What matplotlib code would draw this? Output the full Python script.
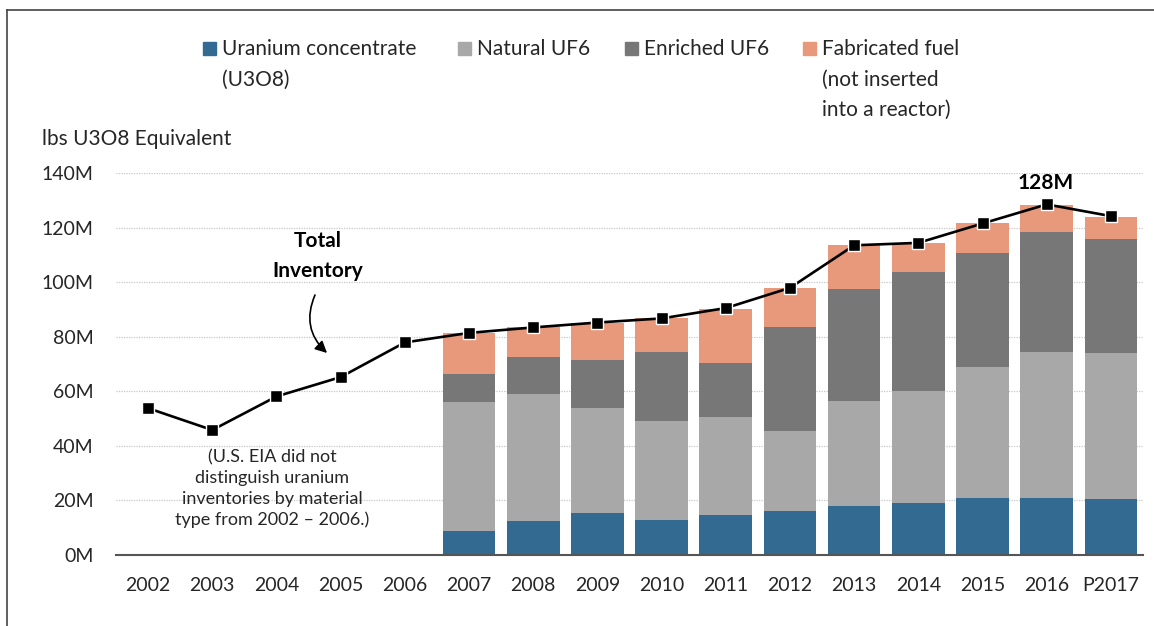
import numpy as np
import matplotlib
matplotlib.use("Agg")
import matplotlib.pyplot as plt
from matplotlib.patches import Rectangle
from matplotlib.lines import Line2D

plt.rcParams['font.family'] = ['Lato', 'DejaVu Sans']

W, H = 1154, 626
TXT = "#262626"

years = ["2002", "2003", "2004", "2005", "2006", "2007", "2008", "2009",
         "2010", "2011", "2012", "2013", "2014", "2015", "2016", "P2017"]

# million lbs U3O8 equivalent, by material type (2007 onward)
bar_years = years[5:]
u3o8 = [8.8, 12.5, 15.3, 13.0, 14.8, 16.3, 18.1, 19.1, 20.9, 20.9, 20.4]
natural_uf6 = [47.4, 46.5, 38.6, 36.1, 35.8, 29.2, 38.5, 40.9, 47.9, 53.6, 53.6]
enriched_uf6 = [10.3, 13.6, 17.7, 25.4, 19.7, 37.9, 40.8, 43.6, 41.7, 43.7, 41.8]
fabricated = [15.0, 10.8, 13.4, 12.2, 19.7, 14.6, 16.1, 10.8, 11.0, 9.9, 8.0]

total_inventory = [53.8, 45.8, 58.1, 65.2, 77.9, 81.4, 83.4, 85.2, 86.7,
                   90.5, 97.9, 113.5, 114.4, 121.5, 128.5, 124.2]

series = [
    (["Uranium concentrate", "(U3O8)"], u3o8, "#336a92"),
    (["Natural UF6"], natural_uf6, "#a8a8a8"),
    (["Enriched UF6"], enriched_uf6, "#777777"),
    (["Fabricated fuel", "(not inserted", "into a reactor)"], fabricated, "#e8997b"),
]


def px(x, y):
    # pixel position (from top-left) -> figure fraction
    return x / W, 1 - y / H


fig = plt.figure(figsize=(W / 100, H / 100), dpi=100)
ax = fig.add_axes([116 / W, 1 - 555 / H, (1143 - 116) / W, (555 - 173) / H])

x = np.arange(len(years))
xb = x[5:]
bottom = np.zeros(len(bar_years))
for label, vals, color in series:
    ax.bar(xb, vals, width=0.82, bottom=bottom, color=color, zorder=2)
    bottom += np.array(vals)

ax.plot(x, total_inventory, color="black", lw=1.9, marker="s", markersize=8,
        markerfacecolor="black", markeredgecolor="white", markeredgewidth=1,
        zorder=4)

ax.set_xlim(-0.5, 15.5)
ax.set_ylim(0, 140)
ax.set_yticks(np.arange(0, 141, 20))
ax.set_yticklabels([f"{v}M" for v in range(0, 141, 20)])
ax.set_xticks(x)
ax.set_xticklabels(years)
ax.tick_params(axis="both", length=0, labelsize=14, colors=TXT)
ax.tick_params(axis="x", pad=16)
ax.tick_params(axis="y", pad=16)
ax.grid(axis="y", color="#c8c8c8", linestyle=(0, (1, 1)), lw=0.9, zorder=0)
for s in ["top", "right", "left"]:
    ax.spines[s].set_visible(False)
ax.spines["bottom"].set_color("#555555")
ax.spines["bottom"].set_linewidth(1.5)
ax.spines["bottom"].set_zorder(3)

# annotations
for line, yb in zip(["Total", "Inventory"], [247, 277]):
    fig.text(*px(318, yb), line, ha="center", va="baseline", fontsize=15,
             fontweight="bold", color="black")
ax.annotate("", xy=px(327, 353), xytext=px(315, 295),
            xycoords="figure fraction", textcoords="figure fraction",
            arrowprops=dict(arrowstyle="-|>,head_length=0.7,head_width=0.35",
                            color="black", lw=1.2, shrinkA=0, shrinkB=0,
                            connectionstyle="arc3,rad=0.35"))
note = ["(U.S. EIA did not", "distinguish uranium",
        "inventories by material", "type from 2002 \u2013 2006.)"]
for line, yb in zip(note, [462, 483, 504, 525]):
    fig.text(*px(272, yb), line, ha="center", va="baseline", fontsize=13,
             color=TXT)
fig.text(*px(1046, 189), "128M", ha="center", va="baseline", fontsize=15,
         fontweight="bold", color="black")

fig.text(*px(42, 145), "lbs U3O8 Equivalent", fontsize=15, ha="left",
         va="baseline", color=TXT)

# legend drawn by hand so handles line up with the first text line
leg_x = [203, 458, 625, 803]
for (lines, vals, color), lx in zip(series, leg_x):
    fig.patches.append(Rectangle(px(lx, 55), 13 / W, 13 / H,
                                 transform=fig.transFigure, color=color))
    for i, line in enumerate(lines):
        fig.text(*px(lx + 19, 55 + 30.5 * i), line, fontsize=15, ha="left",
                 va="baseline", color=TXT)

# partial frame as in the original
fig.add_artist(Line2D([7 / W, 7 / W], [0, 1 - 10 / H],
                      transform=fig.transFigure, color="#444444", lw=1.2))
fig.add_artist(Line2D([7 / W, 1], [1 - 10 / H, 1 - 10 / H],
                      transform=fig.transFigure, color="#444444", lw=1.2))

fig.savefig("out.png", dpi=100)
